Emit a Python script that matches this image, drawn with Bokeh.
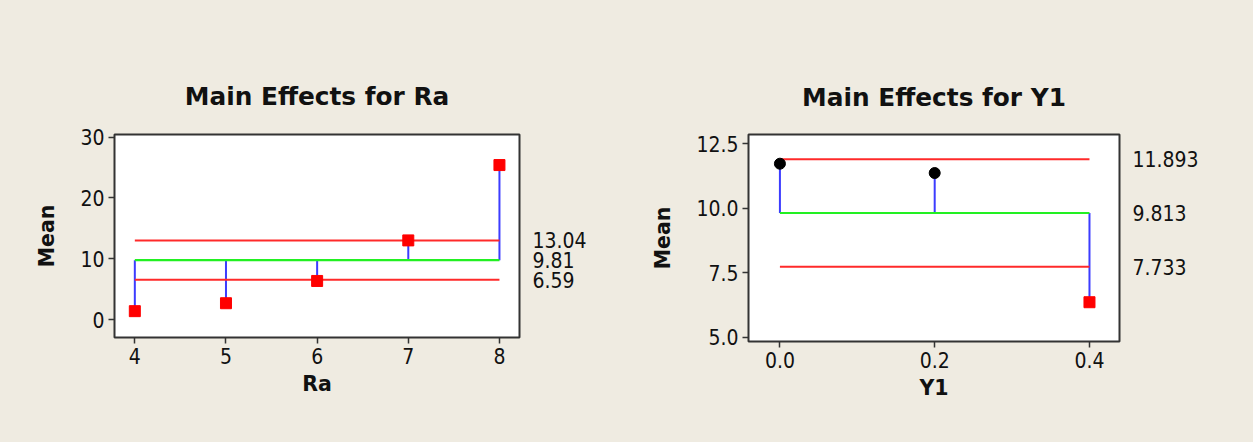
from bokeh.plotting import figure
from bokeh.models import Range1d, LinearAxis, FixedTicker, NumeralTickFormatter
from bokeh.layouts import row
from bokeh.embed import file_html
from bokeh.resources import INLINE

# ---- data: Main Effects for Ra ----
ra_levels = [4, 5, 6, 7, 8]
ra_means = [1.45, 2.75, 6.4, 13.05, 25.4]
ra_center = 9.81
ra_limits = [13.04, 6.59]
ra_yticks = [0, 10, 20, 30]
ra_markers = ["square", "square", "square", "square", "square"]
ra_colors = ["#FF0000", "#FF0000", "#FF0000", "#FF0000", "#FF0000"]

# ---- data: Main Effects for Y1 ----
y1_levels = [0.0, 0.2, 0.4]
y1_means = [11.72, 11.36, 6.36]
y1_center = 9.813
y1_limits = [11.893, 7.733]
y1_yticks = [5.0, 7.5, 10.0, 12.5]
y1_markers = ["circle", "circle", "square"]
y1_colors = ["#000000", "#000000", "#FF0000"]

BG = "#EFEBE1"
TICK_FONT = "DejaVu Sans Condensed"
BOLD_FONT = "DejaVu Sans"
TXT = "#111111"


def make_chart(title, xlabel, levels, means, center, limits, xr, yr,
               xticks, yticks, xfmt, yfmt, limfmt, markers, colors,
               fw, fh, bl, br, bt, bb, tstand):
    p = figure(frame_width=fw, frame_height=fh, x_range=Range1d(*xr),
               y_range=Range1d(*yr), output_backend="svg",
               toolbar_location=None, min_border_left=bl,
               min_border_right=br, min_border_top=bt, min_border_bottom=bb)
    p.border_fill_color = BG
    p.background_fill_color = "white"
    p.outline_line_color = "#333333"
    p.outline_line_width = 2
    p.xgrid.grid_line_color = None
    p.ygrid.grid_line_color = None

    p.title.text = title
    p.title.align = "center"
    p.title.text_font = BOLD_FONT
    p.title.text_font_style = "bold"
    p.title.text_font_size = "24.8px"
    p.title.text_color = TXT
    p.title.standoff = tstand

    for ax, ticks, fmt, lab in ((p.xaxis[0], xticks, xfmt, xlabel),
                                (p.yaxis[0], yticks, yfmt, "Mean")):
        ax.ticker = FixedTicker(ticks=ticks)
        if fmt:
            ax.formatter = NumeralTickFormatter(format=fmt)
        ax.axis_line_color = None
        ax.major_tick_line_color = "#333333"
        ax.major_tick_line_width = 1.5
        ax.major_tick_out = 6
        ax.major_tick_in = 0
        ax.minor_tick_line_color = None
        ax.major_label_text_font = TICK_FONT
        ax.major_label_text_font_size = "21px"
        ax.major_label_text_color = TXT
        ax.major_label_standoff = 4
        ax.axis_label = lab
        ax.axis_label_text_font = BOLD_FONT
        ax.axis_label_text_font_style = "bold"
        ax.axis_label_text_font_size = "20.5px"
        ax.axis_label_text_color = TXT
    p.xaxis[0].axis_label_standoff = 5
    p.yaxis[0].axis_label_standoff = 18

    ra = LinearAxis(ticker=FixedTicker(ticks=[limits[0], center, limits[1]]),
                    formatter=NumeralTickFormatter(format=limfmt))
    ra.axis_line_color = None
    ra.major_tick_line_color = None
    ra.minor_tick_line_color = None
    ra.major_tick_out = 0
    ra.major_tick_in = 0
    ra.major_label_standoff = 13
    ra.major_label_text_font = TICK_FONT
    ra.major_label_text_font_size = "21px"
    ra.major_label_text_color = TXT
    p.add_layout(ra, "right")

    n = len(levels)
    # stems
    p.segment(x0=levels, y0=[center] * n, x1=levels, y1=means,
              line_color="#3C3CFF", line_width=2)
    # center line
    p.segment(x0=[levels[0]], y0=[center], x1=[levels[-1]], y1=[center],
              line_color="#22F022", line_width=2.2)
    # decision limits
    p.segment(x0=[levels[0]] * 2, y0=limits, x1=[levels[-1]] * 2, y1=limits,
              line_color="#FF2A2A", line_width=2)
    # points
    for x, y, m, c in zip(levels, means, markers, colors):
        p.scatter([x], [y], marker=m, size=11, fill_color=c, line_color=c)
    return p


p1 = make_chart("Main Effects for Ra", "Ra", ra_levels, ra_means, ra_center,
                ra_limits, (3.777, 8.22), (-2.87, 30.41), ra_levels, ra_yticks,
                None, None, "0.00", ra_markers, ra_colors,
                405, 203, 114, 109, 134, 104, 48)
p2 = make_chart("Main Effects for Y1", "Y1", y1_levels, y1_means, y1_center,
                y1_limits, (-0.0406, 0.4388), (4.84, 12.85), y1_levels,
                y1_yticks, "0.0", "0.0", "0.000", y1_markers, y1_colors,
                371, 207, 120, 133, 129, 105, 46)

layout = row(p1, p2)
html = file_html(layout, INLINE)
html = html.replace("<head>", "<head><style>body{background:%s;}</style>" % BG, 1)
open("out.html", "w").write(html)
